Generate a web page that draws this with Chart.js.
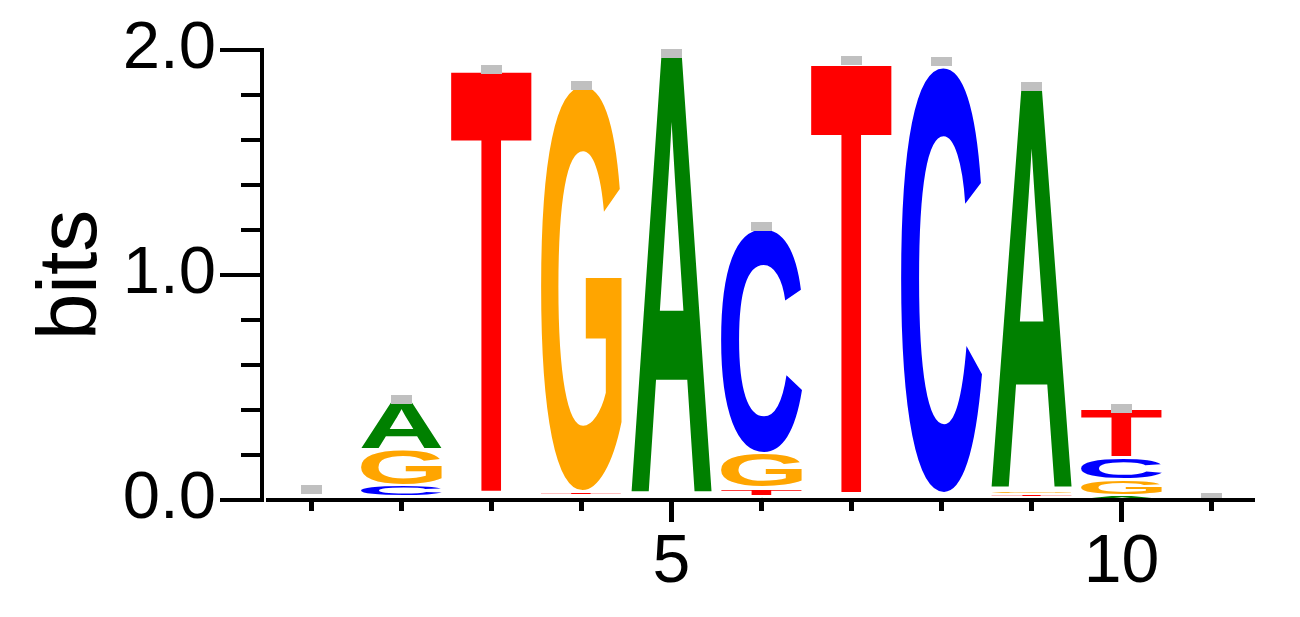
<!DOCTYPE html>
<html>
<head>
<meta charset="utf-8">
<script src="https://cdn.jsdelivr.net/npm/chart.js@4.4.1/dist/chart.umd.min.js"></script>
<style>
html,body{margin:0;padding:0;background:#fff;}
canvas{display:block;}
</style>
</head>
<body>
<canvas id="c" width="1300" height="617"></canvas>
<script>
// ---- data (information content in bits, per letter per position) ----
const positions = [1, 2, 3, 4, 5, 6, 7, 8, 9, 10, 11];
const bitsA = [0, 0.218, 0.012, 0.011, 1.970, 0.018, 0.010, 0.010, 1.804, 0.020, 0];
const bitsC = [0, 0.048, 0.012, 0.011, 0.006, 1.002, 0.010, 1.898, 0.012, 0.100, 0];
const bitsG = [0, 0.160, 0.012, 1.808, 0.007, 0.155, 0.010, 0.010, 0.016, 0.070, 0];
const bitsT = [0, 0.016, 1.887, 0.016, 0.007, 0.035, 1.923, 0.010, 0.014, 0.215, 0];
const errorCenter = [0.048, 0.447, 1.915, 1.844, 1.985, 1.217, 1.954, 1.947, 1.838, 0.405, 0.009];
const letterNames = ['A', 'C', 'G', 'T'];
const letterColors = {A: '#008000', C: '#0000ff', G: '#ffa500', T: '#ff0000'};
const yTickValues = [0, 0.2, 0.4, 0.6, 0.8, 1.0, 1.2, 1.4, 1.6, 1.8, 2.0];
const yTickLabels = {0: '0.0', 1: '1.0', 2: '2.0'};
const xLabeled = [5, 10];

// ---- build stacked layers: smallest letter at the bottom ----
const byLetter = {A: bitsA, C: bitsC, G: bitsG, T: bitsT};
const sortedStacks = positions.map((p, i) =>
  letterNames.map(l => ({l, h: byLetter[l][i]})).sort((a, b) => a.h - b.h));
const datasets = [0, 1, 2, 3].map(r => ({
  label: 'rank' + r,
  data: positions.map((p, i) => ({x: p, y: sortedStacks[i][r].h})),
  letters: positions.map((p, i) => sortedStacks[i][r].l),
  backgroundColor: 'rgba(0,0,0,0)',
  borderWidth: 0
}));

const FONT = '"Liberation Sans", Arial, sans-serif';
const INSET = 1.2; // vertical margin of each glyph inside its box

const logoPlugin = {
  id: 'logo',
  afterDatasetsDraw(chart) {
    const ctx = chart.ctx;
    const xs = chart.scales.x, ys = chart.scales.y;
    // letters
    chart.data.datasets.forEach((ds, di) => {
      const meta = chart.getDatasetMeta(di);
      meta.data.forEach((el, i) => {
        const {x, y, base, width} = el.getProps(['x', 'y', 'base', 'width'], true);
        const h = base - y - 2 * INSET;
        if (!(h > 0.5)) return;
        const ch = ds.letters[i];
        ctx.save();
        ctx.font = 'bold 200px ' + FONT;
        ctx.textAlign = 'left';
        ctx.textBaseline = 'alphabetic';
        const m = ctx.measureText(ch);
        const gw = m.actualBoundingBoxLeft + m.actualBoundingBoxRight;
        const gh = m.actualBoundingBoxAscent + m.actualBoundingBoxDescent;
        ctx.translate(x - width / 2, y + INSET);
        ctx.scale(width / gw, h / gh);
        ctx.fillStyle = letterColors[ch];
        ctx.fillText(ch, m.actualBoundingBoxLeft, m.actualBoundingBoxAscent);
        ctx.restore();
      });
    });
    // error bars
    ctx.save();
    ctx.fillStyle = '#c0c0c0';
    positions.forEach((p, i) => {
      const px = xs.getPixelForValue(p);
      const py = ys.getPixelForValue(errorCenter[i]);
      ctx.fillRect(Math.round(px - 10.5), Math.round(py - 4.5), 21, 9);
    });
    ctx.restore();
    // axes lines and tick marks
    const y0 = ys.getPixelForValue(0);
    const yTop = ys.getPixelForValue(2);
    const left = chart.chartArea.left;
    ctx.save();
    ctx.fillStyle = '#000';
    ctx.fillRect(left - 4, yTop - 2, 4, y0 - yTop + 4);
    ctx.fillRect(left + 2, y0 - 2, chart.chartArea.right - left - 2, 4);
    yTickValues.forEach(v => {
      const py = ys.getPixelForValue(v);
      const major = Math.abs(v - Math.round(v)) < 1e-6;
      const x1 = major ? left - 44 : left - 23;
      ctx.fillRect(x1, py - 2, left - 4 - x1, 4);
    });
    positions.forEach(p => {
      const px = xs.getPixelForValue(p);
      const major = xLabeled.includes(p);
      ctx.fillRect(Math.round(px - 2.5), y0 + 2, 5, major ? 20 : 9);
    });
    ctx.restore();
  }
};

new Chart(document.getElementById('c'), {
  type: 'bar',
  data: {datasets},
  options: {
    responsive: false,
    animation: false,
    devicePixelRatio: 1,
    events: [],
    layout: {padding: {top: 50, right: 45, left: 0, bottom: 0}},
    plugins: {legend: {display: false}, tooltip: {enabled: false}},
    datasets: {bar: {categoryPercentage: 1, barPercentage: 0.9}},
    scales: {
      x: {
        type: 'linear',
        stacked: true,
        offset: false,
        min: 0.4722,
        max: 11.483,
        grid: {display: false, drawTicks: false},
        border: {display: false},
        ticks: {
          stepSize: 1,
          autoSkip: false,
          maxRotation: 0,
          padding: 22,
          color: '#000',
          font: {family: FONT, size: 68},
          callback: v => xLabeled.includes(v) ? String(v) : ''
        },
        afterFit: s => { s.height = 117; s.paddingLeft = 0; s.paddingRight = 0; }
      },
      y: {
        stacked: true,
        min: 0,
        max: 2,
        grid: {display: false, drawTicks: false},
        border: {display: false},
        ticks: {
          stepSize: 0.2,
          autoSkip: false,
          padding: 48,
          color: '#000',
          font: {family: FONT, size: 67},
          callback: v => {
            const r = Math.round(v);
            return Math.abs(v - r) < 1e-6 && yTickLabels[r] !== undefined ? yTickLabels[r] : '';
          }
        },
        title: {
          display: true,
          text: 'bits',
          color: '#000',
          font: {family: FONT, size: 84},
          padding: {top: 22, bottom: 0}
        },
        afterFit: s => { s.width = 264; s.paddingTop = 0; s.paddingBottom = 0; }
      }
    }
  },
  plugins: [logoPlugin]
});
</script>
</body>
</html>
